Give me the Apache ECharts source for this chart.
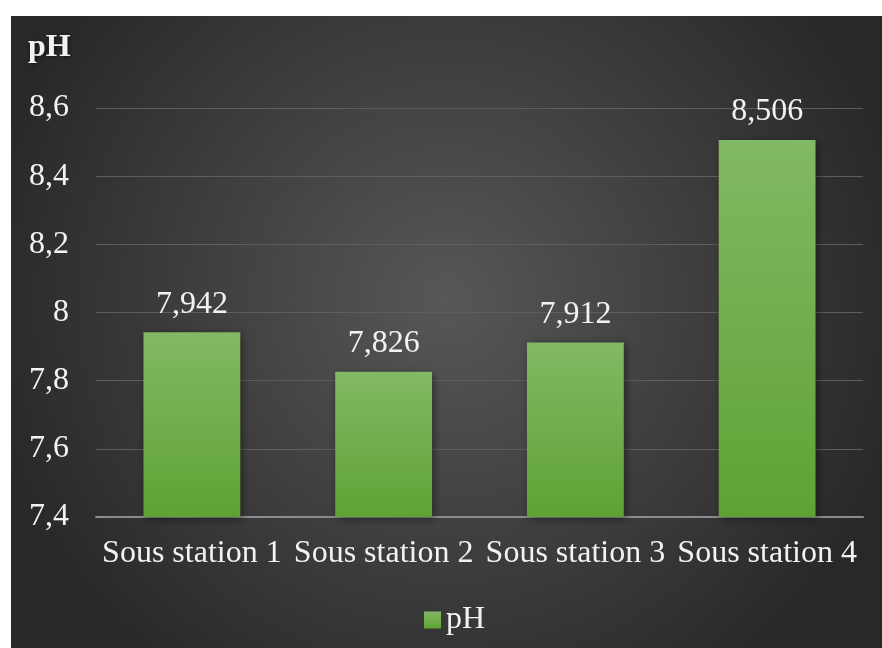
<!DOCTYPE html>
<html>
<head>
<meta charset="utf-8">
<script src="https://cdn.jsdelivr.net/npm/echarts@6/dist/echarts.min.js"></script>
<style>
  html, body { margin: 0; padding: 0; background: #ffffff; }
  #chart { position: absolute; left: 11px; top: 16px; width: 871px; height: 632px; }
</style>
</head>
<body>
<div id="chart"></div>
<script>
// pH measured at each sub-station
const categories = ['Sous station 1', 'Sous station 2', 'Sous station 3', 'Sous station 4'];
const phValues = [7.942, 7.826, 7.912, 8.506];
const seriesName = 'pH';
const axisTitle = 'pH';

const FONT = '"Liberation Serif", "Times New Roman", serif';
const toComma = v => String(v).replace('.', ',');

const chart = echarts.init(document.getElementById('chart'));
chart.setOption({
  backgroundColor: {
    type: 'radial', x: 0.5, y: 0.45, r: 0.75,
    colorStops: [
      { offset: 0, color: '#575757' },
      { offset: 1, color: '#282828' }
    ]
  },
  animation: false,
  title: {
    text: axisTitle,
    left: 12, top: 11,
    textStyle: {
      fontFamily: FONT, fontSize: 32, fontWeight: 'bold', color: '#f2f2f2',
      textShadowColor: 'rgba(0,0,0,0.6)', textShadowBlur: 4, textShadowOffsetX: 1, textShadowOffsetY: 1
    }
  },
  legend: {
    data: [seriesName],
    left: 408, top: 583,
    itemWidth: 17, itemHeight: 17, itemGap: 8,
    icon: 'rect',
    textStyle: { fontFamily: FONT, fontSize: 32, color: '#f2f2f2' }
  },
  grid: { left: 85, right: 19, top: 92, bottom: 131, containLabel: false },
  xAxis: {
    type: 'category',
    data: categories,
    axisLine: { lineStyle: { color: '#8c8c8c', width: 2 } },
    axisTick: { show: false },
    axisLabel: { interval: 0, fontFamily: FONT, fontSize: 32, color: '#f2f2f2', margin: 21 }
  },
  yAxis: {
    type: 'value',
    min: 7.4, max: 8.6, interval: 0.2,
    axisLine: { show: false },
    axisTick: { show: false },
    splitLine: { lineStyle: { color: '#5e5e5e', width: 1 } },
    axisLabel: {
      fontFamily: FONT, fontSize: 32, color: '#f2f2f2', margin: 27,
      formatter: v => toComma(Math.round(v * 10) / 10)
    }
  },
  series: [{
    name: seriesName,
    type: 'bar',
    data: phValues,
    barWidth: '50.5%',
    itemStyle: {
      color: {
        type: 'linear', x: 0, y: 0, x2: 0, y2: 1,
        colorStops: [
          { offset: 0, color: '#81b964' },
          { offset: 1, color: '#5fa234' }
        ]
      },
      shadowColor: 'rgba(0,0,0,0.45)', shadowBlur: 8, shadowOffsetX: 2, shadowOffsetY: 2
    },
    label: {
      show: true, position: 'top', distance: 12,
      fontFamily: FONT, fontSize: 32, color: '#f2f2f2',
      formatter: p => toComma(p.value)
    }
  }]
});
</script>
</body>
</html>
